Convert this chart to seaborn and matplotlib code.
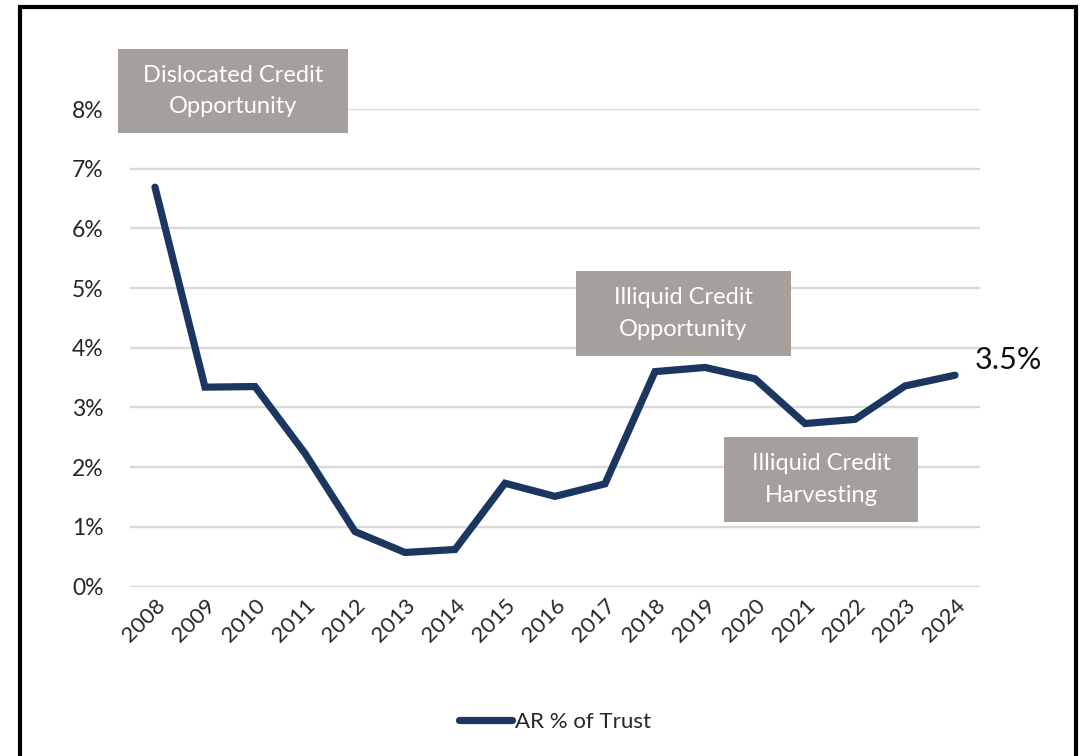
import matplotlib
matplotlib.use("Agg")
import matplotlib.pyplot as plt
from matplotlib.patches import Rectangle
from matplotlib.lines import Line2D
import seaborn as sns
import pandas as pd

# Series: AR as a percentage of the trust, by year
years = ["2008", "2009", "2010", "2011", "2012", "2013", "2014", "2015", "2016",
         "2017", "2018", "2019", "2020", "2021", "2022", "2023", "2024"]
ar_pct = [6.69, 3.34, 3.35, 2.23, 0.92, 0.57, 0.62, 1.73, 1.51,
          1.72, 3.60, 3.67, 3.48, 2.73, 2.80, 3.36, 3.54]
y_ticks = [0, 1, 2, 3, 4, 5, 6, 7, 8]
series_name = "AR % of Trust"
phase_labels = ["Dislocated Credit\nOpportunity",
                "Illiquid Credit\nOpportunity",
                "Illiquid Credit\nHarvesting"]

NAVY = "#1C375F"
BOX = "#A5A09B"
GRID = "#D9D9D9"

sns.set_style("white")
plt.rcParams["font.family"] = ["Lato", "DejaVu Sans"]

W, H = 1081, 756
fig = plt.figure(figsize=(W / 100, H / 100), dpi=100)
ax = fig.add_axes([130 / W, 1 - 586.5 / H, 850 / W, 477.5 / H])

df = pd.DataFrame({"year": years, "value": ar_pct})
sns.lineplot(data=df, x="year", y="value", ax=ax, color=NAVY, linewidth=5.2,
             sort=False, legend=False)
ax.lines[0].set_solid_capstyle("round")
ax.lines[0].set_solid_joinstyle("miter")

ax.set_xlim(-0.5, len(years) - 0.5)
ax.set_ylim(0, 8)
ax.set_yticks(y_ticks)
ax.set_yticklabels([f"{t}%" for t in y_ticks], fontsize=16.5)
ax.set_xticks(range(len(years)))
ax.set_xticklabels(years, fontsize=16, rotation=45, ha="right",
                   rotation_mode="anchor")
ax.tick_params(axis="both", length=0)
ax.tick_params(axis="y", pad=19)
ax.tick_params(axis="x", pad=6)
ax.set_xlabel("")
ax.set_ylabel("")
ax.yaxis.grid(True, color=GRID, linewidth=1.7)
ax.set_axisbelow(True)
for s in ax.spines.values():
    s.set_visible(False)

# End-of-series value label
last = len(years) - 1
ax.annotate(f"{ar_pct[-1]:.1f}%", xy=(last, ar_pct[-1]), xytext=(14, 11),
            textcoords="offset points", fontsize=22, color="#111111",
            ha="left", va="center", annotation_clip=False)


def phase_box(x0, y0, x1, y1, text):
    """Grey callout box given in pixel coordinates (top-left origin)."""
    fig.patches.append(Rectangle((x0 / W, 1 - y1 / H), (x1 - x0) / W, (y1 - y0) / H,
                                 transform=fig.transFigure, facecolor=BOX,
                                 edgecolor="none", zorder=5))
    fig.text((x0 + x1) / 2 / W, 1 - (y0 + y1) / 2 / H, text, color="white",
             fontsize=17, ha="center", va="center", linespacing=1.6, zorder=6)


phase_box(118, 49, 348, 133, phase_labels[0])
phase_box(576, 271, 791, 356, phase_labels[1])
phase_box(724, 437, 918, 522, phase_labels[2])

# Legend
handle = Line2D([], [], color=NAVY, linewidth=5.2, solid_capstyle="round")
fig.legend([handle], [series_name], loc="center", bbox_to_anchor=(555 / W, 1 - 722 / H),
           frameon=False, fontsize=16, handlelength=2.4, handletextpad=0.15)

# Outer frame
fig.patches.append(Rectangle((20 / W, -0.02), 1056 / W, 1.02 - 7 / H,
                             transform=fig.transFigure, facecolor="none",
                             edgecolor="black", linewidth=3))

fig.savefig("out.png", dpi=100, facecolor="white")
